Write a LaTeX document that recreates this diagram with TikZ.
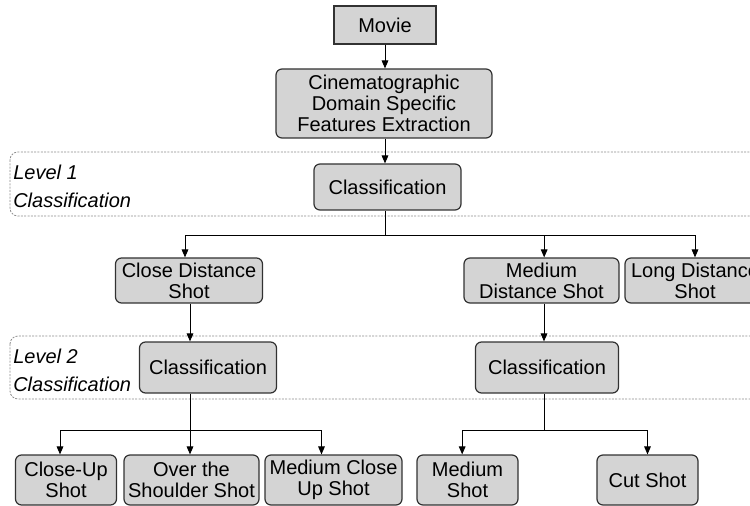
\documentclass[tikz,border=0pt]{standalone}
\usepackage{fontspec}
\setmainfont{Liberation Sans}
\usetikzlibrary{arrows.meta}
\definecolor{boxgray}{RGB}{212,212,212}
\definecolor{edgegray}{RGB}{50,50,50}
\definecolor{dashgray}{RGB}{140,140,140}
\newcommand\bxfont{\fontsize{15}{15.75}\selectfont}
\newcommand\lvfont{\fontsize{15}{15.75}\selectfont\itshape}
\begin{document}
\begin{tikzpicture}[x=0.75pt,y=-0.75pt,
  box/.style={draw=edgegray, fill=boxgray, line width=0.9pt, rounded corners=4.5pt,
    align=center, font=\bxfont, inner sep=0pt},
  sqbox/.style={box, rounded corners=0pt},
  arr/.style={draw=black, line width=0.7pt, -{Triangle[length=6pt,width=5pt]}},
  ln/.style={draw=black, line width=0.7pt},
  level/.style={draw=dashgray, line width=0.6pt, dash pattern=on 1.5pt off 1pt, rounded corners=6pt},
  lvl/.style={font=\lvfont, anchor=west, inner sep=0pt}
]
\clip (0,0) rectangle (750,506);
\useasboundingbox (0,0) rectangle (750,506);

% dashed level frames
\draw[level] (10,152) rectangle (775,216);
\draw[level] (10,336) rectangle (775,399);
\node[lvl] (l1a) at (13,172) {Level 1};
\node[lvl] (l1b) at (13,200) {Classification};
\node[lvl] (l2a) at (13,356) {Level 2};
\node[lvl] (l2b) at (13,384) {Classification};

% nodes
\node[sqbox, minimum width=102*0.75pt, minimum height=38*0.75pt] (movie) at (385,25) {Movie};
\node[box, minimum width=216*0.75pt, minimum height=69*0.75pt] (cine) at (384,103.5) {Cinematographic\\Domain Specific\\Features Extraction};
\node[box, minimum width=147*0.75pt, minimum height=46*0.75pt] (cls1) at (387.5,187) {Classification};

\node[box, minimum width=147*0.75pt, minimum height=45*0.75pt] (cds) at (189,280.5) {Close Distance\\Shot};
\node[box, minimum width=155*0.75pt, minimum height=45*0.75pt] (mds) at (541.5,280.5) {Medium\\Distance Shot};
\node[box, minimum width=140*0.75pt, minimum height=45*0.75pt] (lds) at (695,280.5) {Long Distance\\Shot};

\node[box, minimum width=137*0.75pt, minimum height=51*0.75pt] (cls2a) at (208,367.5) {Classification};
\node[box, minimum width=143*0.75pt, minimum height=51*0.75pt] (cls2b) at (547,367.5) {Classification};

\node[box, minimum width=101*0.75pt, minimum height=50*0.75pt] (cu) at (66,480) {Close-Up\\Shot};
\node[box, minimum width=135*0.75pt, minimum height=50*0.75pt] (ots) at (191.5,480) {Over the\\Shoulder Shot};
\node[box, minimum width=137*0.75pt, minimum height=50*0.75pt] (mcu) at (333.5,480) {Medium Close\\Up Shot};
\node[box, minimum width=101*0.75pt, minimum height=50*0.75pt] (ms) at (467.5,480) {Medium\\Shot};
\node[box, minimum width=101*0.75pt, minimum height=50*0.75pt] (cut) at (647.5,480) {Cut Shot};

% connectors
\coordinate (j1) at (385,235);
\coordinate (j2) at (190,430);
\coordinate (j3) at (544,430);

\draw[arr] (movie.south) -- (movie.south |- cine.north);
\draw[arr] (movie.south |- cine.south) -- (movie.south |- cls1.north);
\draw[ln] (j1 |- cls1.south) -- (j1);
\draw[arr] (j1) -| ([xshift=-3pt]cds.north);
\draw[arr] (j1) -| ([xshift=2pt]mds.north);
\draw[arr] (j1) -| (lds.north);

\draw[arr] (j2 |- cds.south) -- (j2 |- cls2a.north);
\draw[arr] (j3 |- mds.south) -- (j3 |- cls2b.north);

\draw[ln] (j2 |- cls2a.south) -- (j2);
\draw[arr] (j2) -| ([xshift=-4.5pt]cu.north);
\draw[arr] (j2) -- (j2 |- ots.north);
\draw[arr] (j2) -| ([xshift=-9pt]mcu.north);

\draw[ln] (j3 |- cls2b.south) -- (j3);
\draw[arr] (j3) -| ([xshift=-4pt]ms.north);
\draw[arr] (j3) -| (cut.north);
\end{tikzpicture}
\end{document}
